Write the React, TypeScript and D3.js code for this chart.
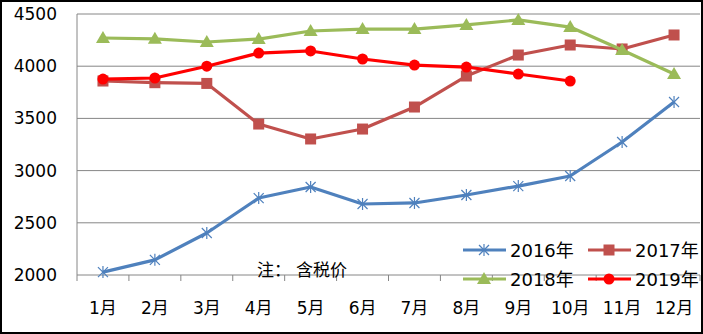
import React from "react";
import * as d3 from "d3";

const months = ["1月", "2月", "3月", "4月", "5月", "6月", "7月", "8月", "9月", "10月", "11月", "12月"];
const yTicks = [2000, 2500, 3000, 3500, 4000, 4500];
const s2016 = [2028, 2145, 2402, 2737, 2843, 2680, 2690, 2766, 2852, 2948, 3274, 3657];
const s2017 = [3858, 3842, 3835, 3446, 3303, 3398, 3609, 3906, 4107, 4203, 4165, 4299];
const s2018 = [4270, 4262, 4232, 4260, 4337, 4356, 4356, 4395, 4443, 4375, 4155, 3925];
const s2019 = [3877, 3887, 4000, 4126, 4146, 4069, 4011, 3992, 3925, 3858];
const seriesNames = ["2016年", "2017年", "2018年", "2019年"];
const notePrefix = "注：";
const noteBody = "含税价";

const W = 703, H = 334;
const left = 77, right = 700, top = 14, bottom = 275;
const font = "'DejaVu Sans', 'Noto Sans CJK SC', sans-serif";
const cjkFont = "'Noto Sans CJK SC', sans-serif";

const colors = ["#4F81BD", "#C0504D", "#9BBB59", "#FF0000"];

function Marker({ type, x, y, color }: { type: number; x: number; y: number; color: string }) {
  if (type === 0) {
    const r = 5;
    return (
      <g stroke={color} strokeWidth={1.2}>
        <line x1={x - r} y1={y - r} x2={x + r} y2={y + r} />
        <line x1={x - r} y1={y + r} x2={x + r} y2={y - r} />
        <line x1={x} y1={y - r - 1} x2={x} y2={y + r + 1} />
      </g>
    );
  }
  if (type === 1) return <rect x={x - 5.5} y={y - 5.5} width={11} height={11} fill={color} />;
  if (type === 2) return <path d={`M${x},${y - 7}L${x + 7},${y + 5}L${x - 7},${y + 5}Z`} fill={color} />;
  return <circle cx={x} cy={y} r={5.5} fill={color} />;
}

export default function App() {
  const x = d3.scaleBand().domain(months).range([left, right]);
  const y = d3.scaleLinear().domain([2000, 4500]).range([bottom, top]);
  const data = [s2016, s2017, s2018, s2019];
  const line = d3
    .line<number>()
    .x((_, i) => (x(months[i]) as number) + x.bandwidth() / 2)
    .y((d) => y(d));

  const legendItems = [
    { x: 463, y: 250 },
    { x: 588, y: 250 },
    { x: 463, y: 279 },
    { x: 588, y: 279 },
  ];

  return (
    <div style={{ position: "fixed", left: 0, top: 0 }}>
      <svg width={W} height={H} style={{ display: "block", background: "#fff" }}>
        <rect x={1} y={1} width={W - 2} height={H - 2} fill="#fff" stroke="#000" strokeWidth={2} />
        {yTicks.map((t) => (
          <g key={t}>
            <line x1={left} x2={right} y1={y(t)} y2={y(t)} stroke="#868686" strokeWidth={1} />
            <text x={57} y={y(t)} textAnchor="end" dominantBaseline="central" fontSize={17} fontFamily={font} fill="#000">
              {t}
            </text>
          </g>
        ))}
        <line x1={left} x2={left} y1={top} y2={bottom} stroke="#868686" />
        {d3.range(months.length + 1).map((i) => {
          const xx = left + i * x.step();
          return <line key={i} x1={xx} x2={xx} y1={bottom} y2={bottom + 6} stroke="#868686" />;
        })}
        {months.map((m) => (
          <text key={m} x={(x(m) as number) + x.bandwidth() / 2} y={308} textAnchor="middle" dominantBaseline="central" fontSize={17} fontFamily={font} fill="#000">
            {m}
          </text>
        ))}
        {data.map((s, si) => (
          <g key={si}>
            <path d={line(s) || ""} fill="none" stroke={colors[si]} strokeWidth={3.2} strokeLinejoin="round" />
            {s.map((v, i) => (
              <Marker key={i} type={si} x={(x(months[i]) as number) + x.bandwidth() / 2} y={y(v)} color={colors[si]} />
            ))}
          </g>
        ))}
        <text y={268} fontSize={17} fontFamily={cjkFont} fill="#000" dominantBaseline="central">
          <tspan x={257}>{notePrefix}</tspan>
          <tspan x={296}>{noteBody}</tspan>
        </text>
        {seriesNames.map((n, i) => {
          const p = legendItems[i];
          return (
            <g key={n}>
              <line x1={p.x} x2={p.x + 43} y1={p.y} y2={p.y} stroke={colors[i]} strokeWidth={3.2} />
              <Marker type={i} x={p.x + 21} y={p.y} color={colors[i]} />
              <text x={p.x + 47} y={p.y} fontSize={18} fontFamily={font} fill="#000" dominantBaseline="central">
                {n}
              </text>
            </g>
          );
        })}
      </svg>
    </div>
  );
}
